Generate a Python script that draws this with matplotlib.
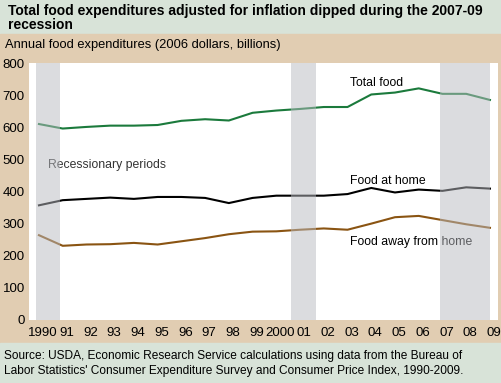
import matplotlib
matplotlib.use("Agg")
import matplotlib.pyplot as plt
import matplotlib.transforms as mtransforms
from matplotlib.patches import Rectangle

plt.rcParams['font.family'] = ['Liberation Sans', 'DejaVu Sans']

# ---------------- data (2006 dollars, billions)
years = list(range(1990, 2010))
total_food = [610, 596, 601, 605, 605, 607, 620, 625, 621, 645, 652, 657,
              663, 663, 702, 708, 721, 704, 704, 685]
food_home = [357, 373, 377, 381, 377, 383, 383, 380, 364, 380, 387, 387,
             387, 392, 411, 397, 406, 402, 413, 409]
food_away = [264, 231, 235, 236, 240, 235, 245, 255, 267, 275, 276, 281,
             285, 281, 300, 320, 324, 311, 298, 287]
tick_labels = ["1990", "91", "92", "93", "94", "95", "96", "97", "98", "99",
               "2000", "01", "02", "03", "04", "05", "06", "07", "08", "09"]
recessions = [(1989.87, 1990.88), (2000.62, 2001.66), (2006.88, 2009.0)]

# ---------------- colours
band_green = "#d8e3d8"
band_tan = "#e1cdb2"
green = "#1b7a3c"
brown = "#8a5412"

fig = plt.figure(figsize=(5.01, 3.83), dpi=100)
H = 383.0
W = 501.0

# background bands
fig.patches.append(Rectangle((0, 1 - 34 / H), 1, 34 / H, transform=fig.transFigure,
                             color=band_green, zorder=-10))
fig.patches.append(Rectangle((0, 40 / H), 1, 1 - 74 / H, transform=fig.transFigure,
                             color=band_tan, zorder=-10))
fig.patches.append(Rectangle((0, 0), 1, 40 / H, transform=fig.transFigure,
                             color=band_green, zorder=-10))

ax = fig.add_axes([29 / W, 63 / H, 469 / W, 257 / H])
ax.set_facecolor("white")

ax.plot(years, total_food, color=green, lw=1.5, zorder=3)
ax.plot(years, food_home, color="black", lw=1.5, zorder=3)
ax.plot(years, food_away, color=brown, lw=1.5, zorder=3)

# recession shading drawn on top, semi transparent
for a, b in recessions:
    ax.axvspan(a, b, color="#b9bbc1", alpha=0.5, lw=0, zorder=5)

ax.text(2003.1, 727, "Total food", fontsize=8.8, zorder=4)
ax.text(2003.1, 423, "Food at home", fontsize=8.8, zorder=4)
ax.text(2003.1, 235, "Food away from home", fontsize=8.8, zorder=4)
ax.text(1990.4, 473, "Recessionary periods", fontsize=8.8, color="#333333", zorder=4)

ax.set_xlim(1989.58, 2009.34)
ax.set_ylim(0, 800)
ax.set_yticks(range(0, 801, 100))
ax.set_xticks(years)
ax.set_xticklabels(tick_labels)
ax.tick_params(length=0, labelsize=9.5, colors="black")
ax.tick_params(axis="y", pad=3)
ax.tick_params(axis="x", pad=5)
offset = mtransforms.ScaledTranslation(4 / 100, 0, fig.dpi_scale_trans)
for lab in ax.get_xticklabels():
    lab.set_transform(lab.get_transform() + offset)
for s in ax.spines.values():
    s.set_visible(False)

fig.text(8 / W, 1 - 15 / H, "Total food expenditures adjusted for inflation dipped during the 2007-09",
         fontsize=10, fontweight="bold", va="baseline")
fig.text(8 / W, 1 - 29 / H, "recession", fontsize=10, fontweight="bold", va="baseline")
fig.text(5 / W, 1 - 48 / H, "Annual food expenditures (2006 dollars, billions)",
         fontsize=9.3, va="baseline")
fig.text(4 / W, 1 - 359 / H,
         "Source: USDA, Economic Research Service calculations using data from the Bureau of",
         fontsize=8.6, va="baseline")
fig.text(4 / W, 1 - 374 / H,
         "Labor Statistics' Consumer Expenditure Survey and Consumer Price Index, 1990-2009.",
         fontsize=8.6, va="baseline")

fig.savefig("out.png", dpi=100)
